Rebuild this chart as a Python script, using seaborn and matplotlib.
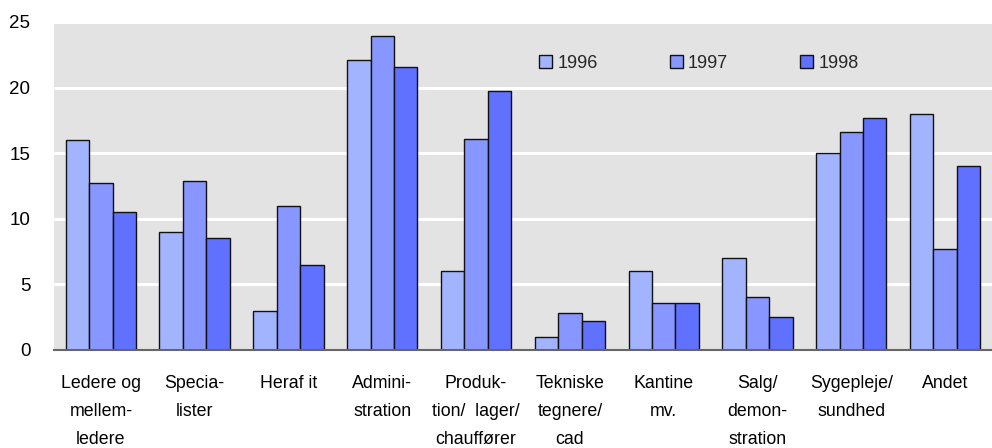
import matplotlib
matplotlib.use("Agg")
import matplotlib.pyplot as plt
import seaborn as sns
import pandas as pd

categories = ["Ledere og\nmellem-\nledere", "Specia-\nlister", "Heraf it", "Admini-\nstration",
              "Produk-\ntion/  lager/\nchauffører", "Tekniske\ntegnere/\ncad", "Kantine\nmv.",
              "Salg/\ndemon-\nstration", "Sygepleje/\nsundhed", "Andet"]
years = ["1996", "1997", "1998"]
v1996 = [16.0, 9.0, 3.0, 22.1, 6.0, 1.0, 6.0, 7.0, 15.0, 18.0]
v1997 = [12.7, 12.9, 11.0, 23.9, 16.1, 2.8, 3.6, 4.0, 16.6, 7.7]
v1998 = [10.5, 8.5, 6.5, 21.6, 19.7, 2.2, 3.6, 2.5, 17.7, 14.0]
yticks = [0, 5, 10, 15, 20, 25]

rows = []
for yr, vals in zip(years, [v1996, v1997, v1998]):
    for c, v in zip(categories, vals):
        rows.append({"cat": c, "year": yr, "value": v})
df = pd.DataFrame(rows)

sns.set_theme(style="white")
plt.rcParams["font.family"] = ["Liberation Sans", "DejaVu Sans"]

fig = plt.figure(figsize=(9.92, 4.48), dpi=100)
ax = fig.add_axes([0.0544, 0.219, 0.9456, 0.732])
ax.set_facecolor("#e3e3e3")

palette = ["#a3b4ff", "#8896ff", "#6070ff"]
sns.barplot(data=df, x="cat", y="value", hue="year", palette=palette, width=0.75,
            edgecolor="#111111", linewidth=1.0, saturation=1, ax=ax, errorbar=None)

ax.set_ylim(0, 25)
ax.set_xlim(-0.5, 9.5)
ax.set_yticks(yticks)
ax.yaxis.grid(True, color="white", linewidth=2.2)
ax.set_axisbelow(True)
for s in ["top", "right", "left"]:
    ax.spines[s].set_visible(False)
ax.spines["bottom"].set_color("#666666")
ax.spines["bottom"].set_linewidth(1.5)
ax.tick_params(axis="both", length=0, colors="black")
ax.tick_params(axis="y", pad=17, labelsize=13.5)
ax.tick_params(axis="x", pad=18, labelsize=12.8)
for lbl in ax.get_xticklabels():
    lbl.set_linespacing(1.85)
ax.set_xlabel("")
ax.set_ylabel("")

leg = ax.legend(loc="upper left", bbox_to_anchor=(0.5, 0.95), ncol=3, frameon=False,
                fontsize=13, handlelength=0.7, handleheight=0.7, handletextpad=0.3,
                columnspacing=4.0)
for h in leg.legend_handles:
    h.set_edgecolor("#111111")
    h.set_linewidth(1.0)

fig.savefig("out.png", dpi=100)
